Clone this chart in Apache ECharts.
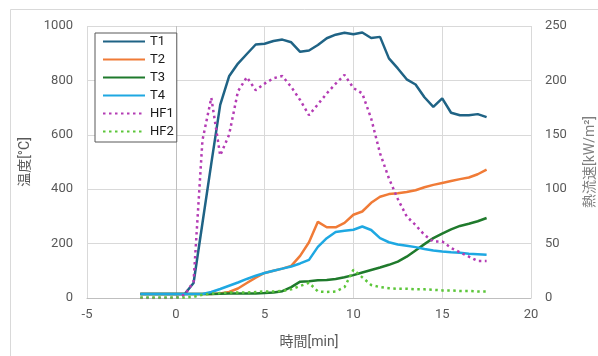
<!DOCTYPE html>
<html>
<head>
<meta charset="utf-8">
<script src="https://cdn.jsdelivr.net/npm/echarts@6/dist/echarts.min.js"></script>
<style>
  html, body { margin: 0; padding: 0; background: #fff; }
  #chart { width: 598px; height: 356px; }
</style>
</head>
<body>
<div id="chart"></div>
<script>
// Sample times [min], every 0.5 min
const times = [-2, -1.5, -1, -0.5, 0, 0.5, 1, 1.5, 2, 2.5, 3, 3.5, 4, 4.5, 5, 5.5, 6, 6.5, 7, 7.5,
               8, 8.5, 9, 9.5, 10, 10.5, 11, 11.5, 12, 12.5, 13, 13.5, 14, 14.5, 15, 15.5, 16, 16.5, 17, 17.5];

// Temperatures [°C]
const T1 = [15, 15, 15, 15, 15, 15, 55, 275, 495, 710, 815, 862, 897, 932, 935, 945, 950, 940, 905, 910,
            930, 955, 968, 975, 970, 976, 956, 960, 881, 844, 804, 785, 738, 703, 734, 681, 672, 672, 676, 665];
const T2 = [15, 15, 15, 15, 15, 15, 15, 15, 15, 17, 22, 35, 55, 75, 92, 100, 108, 118, 155, 205,
            280, 260, 260, 276, 306, 318, 350, 372, 382, 385, 390, 396, 407, 416, 423, 430, 437, 443, 455, 472];
const T3 = [15, 15, 15, 15, 15, 15, 15, 15, 15, 16, 17, 17, 17, 17, 18, 20, 25, 40, 60, 62,
            65, 66, 70, 76, 84, 94, 103, 112, 122, 134, 152, 175, 198, 220, 237, 252, 265, 273, 282, 294];
const T4 = [15, 15, 15, 15, 15, 15, 15, 15, 22, 33, 45, 57, 70, 82, 92, 100, 108, 116, 127, 140,
            188, 220, 243, 247, 251, 263, 250, 220, 205, 197, 192, 187, 180, 175, 171, 168, 166, 163, 161, 159];

// Heat flux [kW/m2]
const HF1 = [0, 0, 0, 0, 0, 3, 15, 145, 184, 131, 150, 190, 203, 191, 197, 202, 204, 194, 182, 168,
             178, 188, 197, 205, 193, 188, 165, 133, 110, 91, 75, 67, 58, 52, 52, 46, 42, 38, 34, 34];
const HF2 = [0.5, 0.5, 0.5, 0.5, 0.5, 0.5, 1, 3, 4, 4.5, 5, 5, 5, 5.5, 6, 6, 6.5, 8, 11, 14,
             6, 5.5, 6, 10, 26, 19, 12, 10, 9, 8.5, 8.5, 8, 8, 7.5, 7, 7, 6.5, 6.5, 6, 6];

// Axis ticks
const xTicks = [-5, 0, 5, 10, 15, 20];
const tempTicks = [0, 200, 400, 600, 800, 1000];
const fluxTicks = [0, 50, 100, 150, 200, 250];

const pairs = vals => times.map((t, i) => [t, vals[i]]);

const FONT = 'Roboto, "Noto Sans CJK JP", sans-serif';
const tickLabel = { color: '#595959', fontSize: 13, fontFamily: FONT, formatter: v => String(v) };
const gridLine = { show: true, lineStyle: { color: '#d9d9d9', width: 1 } };

function solid(name, data, color) {
  return {
    name, type: 'line', data: pairs(data), yAxisIndex: 0,
    symbol: 'none', smooth: false,
    lineStyle: { color, width: 2.5 }, itemStyle: { color }
  };
}
function dotted(name, data, color) {
  return {
    name, type: 'line', data: pairs(data), yAxisIndex: 1,
    symbol: 'none', smooth: false,
    lineStyle: { color, width: 2.5, type: [2.5, 3.5] }, itemStyle: { color }
  };
}

const series = [
  solid('T1', T1, '#1f6385'),
  solid('T2', T2, '#f07b37'),
  solid('T3', T3, '#1f7a2c'),
  solid('T4', T4, '#1ea8e2'),
  dotted('HF1', HF1, '#b43cb4'),
  dotted('HF2', HF2, '#5cc63a')
];
// vertical axis line through t = 0
series[0].markLine = {
  silent: true, symbol: 'none', label: { show: false }, z: 1,
  lineStyle: { color: '#bfbfbf', width: 1, type: 'solid' },
  data: [{ xAxis: 0 }]
};

const chart = echarts.init(document.getElementById('chart'), null, { renderer: 'canvas' });
chart.setOption({
  animation: false,
  backgroundColor: '#fff',
  textStyle: { fontFamily: FONT },
  graphic: [{
    type: 'rect', left: 8, top: 7, silent: true, z: -10,
    shape: { width: 620, height: 380 },
    style: { fill: 'none', stroke: '#d9d9d9', lineWidth: 1 }
  }],
  grid: { left: 87, right: 67, top: 26, bottom: 58, containLabel: false, outerBoundsMode: 'none' },
  legend: {
    orient: 'vertical', left: 95, top: 33,
    backgroundColor: '#fff', borderColor: '#595959', borderWidth: 1,
    padding: [2, 3, 4, 7],
    itemWidth: 42, itemHeight: 14, itemGap: 5,
    itemStyle: { opacity: 0 },
    textStyle: { color: '#1a1a1a', fontSize: 13, fontFamily: FONT },
    data: ['T1', 'T2', 'T3', 'T4', 'HF1', 'HF2']
  },
  xAxis: {
    type: 'value', min: xTicks[0], max: xTicks[xTicks.length - 1], interval: 5,
    name: '時間[min]', nameLocation: 'middle', nameGap: 38,
    nameTextStyle: { color: '#595959', fontSize: 14, fontFamily: FONT },
    axisLine: { show: true, onZero: false, lineStyle: { color: '#bfbfbf' } },
    axisTick: { show: false },
    axisLabel: Object.assign({ margin: 10 }, tickLabel),
    splitLine: gridLine
  },
  yAxis: [{
    type: 'value', min: tempTicks[0], max: tempTicks[tempTicks.length - 1], interval: 200,
    name: '温度[°C]', nameLocation: 'middle', nameGap: 55, nameRotate: 90,
    nameTextStyle: { color: '#595959', fontSize: 14, fontFamily: FONT },
    axisLine: { show: false }, axisTick: { show: false },
    axisLabel: Object.assign({ margin: 14 }, tickLabel),
    splitLine: gridLine
  }, {
    type: 'value', min: fluxTicks[0], max: fluxTicks[fluxTicks.length - 1], interval: 50,
    name: '熱流速[kW/m²]', nameLocation: 'middle', nameGap: 52, nameRotate: 90,
    nameTextStyle: { color: '#7f7f7f', fontSize: 14, fontFamily: FONT },
    axisLine: { show: false }, axisTick: { show: false },
    axisLabel: Object.assign({ margin: 14 }, tickLabel),
    splitLine: { show: false }
  }],
  series
});
</script>
</body>
</html>
